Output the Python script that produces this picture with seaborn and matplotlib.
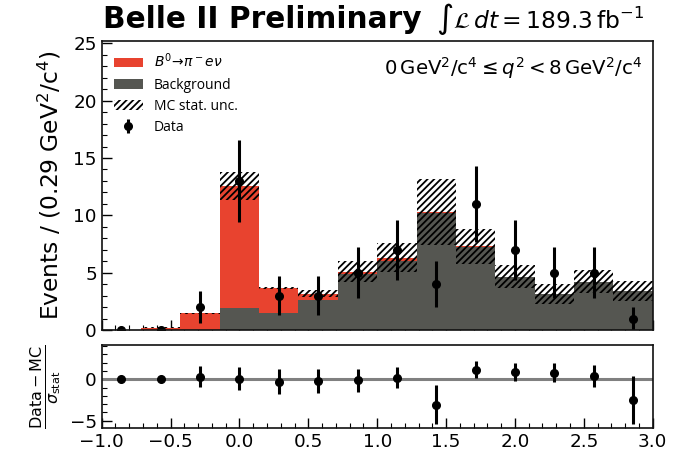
import numpy as np
import pandas as pd
import matplotlib
matplotlib.use("Agg")
import matplotlib.pyplot as plt
import seaborn as sns
from matplotlib.patches import Patch
from matplotlib.ticker import MultipleLocator

# ---- data ----
x_range = (-1.0, 3.0)
n_bins = 14
signal = [0.0, 0.2, 1.45, 10.6, 2.15, 0.55, 0.2, 0.3, 0.1, 0.1, 0.05, 0.0, 0.0, 0.0]
background = [0.0, 0.0, 0.0, 1.95, 1.5, 2.6, 4.9, 6.0, 10.2, 7.2, 4.6, 3.15, 4.2, 3.4]
mc_unc = [0.0, 0.05, 0.05, 1.25, 0.08, 0.3, 0.9, 1.25, 2.9, 1.55, 1.0, 0.9, 1.0, 0.9]
data = [0, 0, 2, 13, 3, 3, 5, 7, 4, 11, 7, 5, 5, 1]
data_err = [0, 0, 1.4, 3.6, 1.7, 1.7, 2.2, 2.6, 2.0, 3.3, 2.6, 2.2, 2.2, 1.0]
pulls = [0, 0, 0.28, 0.08, -0.32, -0.2, -0.12, 0.2, -3.05, 1.16, 0.88, 0.8, 0.36, -2.5]
pull_err = [0, 0, 1.25, 1.35, 1.5, 1.45, 1.4, 1.3, 2.35, 1.0, 1.1, 1.1, 1.3, 2.9]

sig_label = r"$B^0\!\rightarrow\!\pi^- e\nu$"
bkg_label = "Background"

bin_edges = np.linspace(x_range[0], x_range[1], n_bins + 1)
centers = 0.5 * (bin_edges[:-1] + bin_edges[1:])
width = bin_edges[1] - bin_edges[0]
total = np.array(signal) + np.array(background)
unc = np.array(mc_unc)

df = pd.DataFrame({
    "x": np.concatenate([centers, centers]),
    "w": np.concatenate([signal, background]),
    "comp": [sig_label] * len(centers) + [bkg_label] * len(centers),
})

sns.set_theme(style="ticks")
plt.rcParams["font.family"] = ["DejaVu Sans"]
plt.rcParams["mathtext.fontset"] = "dejavusans"
plt.rcParams["hatch.linewidth"] = 1.3
for k in ("text.color", "axes.labelcolor", "xtick.color", "ytick.color", "axes.edgecolor"):
    plt.rcParams[k] = "black"

RED = "#e8432f"
GRAY = "#555651"

fig = plt.figure(figsize=(6.89, 4.62), dpi=100)
ax = fig.add_axes([0.1476, 0.2857, 0.7997, 0.6255])
axr = fig.add_axes([0.1476, 0.0729, 0.7997, 0.1803], sharex=ax)

sns.histplot(data=df, x="x", weights="w", hue="comp",
             hue_order=[sig_label, bkg_label], bins=n_bins, binrange=x_range,
             multiple="stack", palette={sig_label: RED, bkg_label: GRAY},
             alpha=1, linewidth=0, element="bars", legend=False, ax=ax)

ax.bar(centers, 2 * unc, bottom=total - unc, width=width, fill=False,
       hatch="/////", linewidth=0, edgecolor="black")

data_handle = ax.errorbar(centers, data, yerr=data_err, fmt="o", color="black",
                          markersize=5.5, elinewidth=2.2, capsize=0, label="Data")

ax.set_xlim(*x_range)
ax.set_ylim(0, 25.2)
ax.set_ylabel(r"Events / (0.29 GeV$^2$/c$^4$)", fontsize=16.8, labelpad=7)
ax.set_xlabel("")
ax.yaxis.set_major_locator(MultipleLocator(5))
ax.yaxis.set_minor_locator(MultipleLocator(1))
ax.xaxis.set_major_locator(MultipleLocator(0.5))
ax.xaxis.set_minor_locator(MultipleLocator(0.1))
ax.tick_params(axis="both", which="both", direction="in", top=False, right=False)
ax.tick_params(which="major", length=7, width=1, labelsize=13.2)
ax.tick_params(which="minor", length=3.5, width=0.8)
ax.tick_params(axis="x", labelbottom=False)

handles = [
    Patch(facecolor=RED, edgecolor="none", label=sig_label),
    Patch(facecolor=GRAY, edgecolor="none", label=bkg_label),
    Patch(facecolor="none", edgecolor="black", hatch="/////", linewidth=0, label="MC stat. unc."),
    data_handle,
]
ax.legend(handles=handles, labels=[sig_label, bkg_label, "MC stat. unc.", "Data"],
          loc="upper left", frameon=False,
          handlelength=2.1, handleheight=0.7, labelspacing=0.45,
          borderaxespad=0.45, prop={"family": "Open Sans", "size": 10})

ax.text(0.982, 0.95, r"$0\,\mathrm{GeV}^2/\mathrm{c}^4 \leq q^2 < 8\,\mathrm{GeV}^2/\mathrm{c}^4$",
        transform=ax.transAxes, ha="right", va="top", fontsize=14.2)

title_y = 1 - 28 / 462
fig.text(103 / 689, title_y, "Belle II Preliminary", fontsize=21.3, fontweight="bold",
         ha="left", va="baseline")
fig.text(436 / 689, title_y, r"$\int\mathcal{L}\,dt = 189.3\,\mathrm{fb}^{-1}$", fontsize=16.8,
         ha="left", va="baseline")

# ratio panel
axr.axhline(0, color="#808080", linewidth=2.2, zorder=1)
axr.errorbar(centers, pulls, yerr=pull_err, fmt="o", color="black",
             markersize=5.5, elinewidth=2.2, capsize=0, zorder=3)
axr.set_ylim(-5.9, 4.1)
axr.yaxis.set_major_locator(MultipleLocator(5))
axr.yaxis.set_minor_locator(MultipleLocator(1))
axr.set_ylabel(r"$\frac{\mathrm{Data}-\mathrm{MC}}{\sigma_{\mathrm{stat}}}$", fontsize=16.5)
axr.tick_params(axis="both", which="both", direction="in", top=False, right=False)
axr.tick_params(which="major", length=7, width=1, labelsize=13.2)
axr.tick_params(which="minor", length=3.5, width=0.8)
for a in (ax, axr):
    for s in a.spines.values():
        s.set_linewidth(1.2)
        s.set_color("#111111")

fig.savefig("out.png", dpi=100)
